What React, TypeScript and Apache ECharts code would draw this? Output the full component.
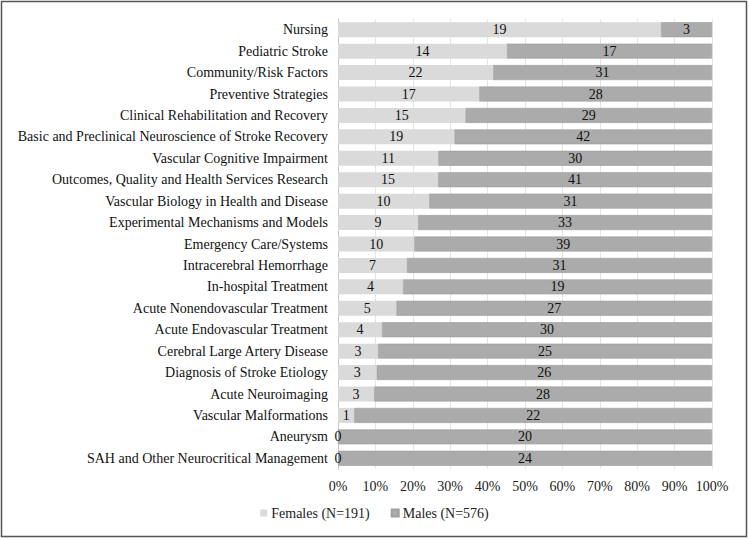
import React, { useEffect, useRef } from "react";
import * as echarts from "echarts";

const categories = [
  "Nursing",
  "Pediatric Stroke",
  "Community/Risk Factors",
  "Preventive Strategies",
  "Clinical Rehabilitation and Recovery",
  "Basic and Preclinical Neuroscience of Stroke Recovery",
  "Vascular Cognitive Impairment",
  "Outcomes, Quality and Health Services Research",
  "Vascular Biology in Health and Disease",
  "Experimental Mechanisms and Models",
  "Emergency Care/Systems",
  "Intracerebral Hemorrhage",
  "In-hospital Treatment",
  "Acute Nonendovascular Treatment",
  "Acute Endovascular Treatment",
  "Cerebral Large Artery Disease",
  "Diagnosis of Stroke Etiology",
  "Acute Neuroimaging",
  "Vascular Malformations",
  "Aneurysm",
  "SAH and Other Neurocritical Management",
];

const females = [19, 14, 22, 17, 15, 19, 11, 15, 10, 9, 10, 7, 4, 5, 4, 3, 3, 3, 1, 0, 0];
const males = [3, 17, 31, 28, 29, 42, 30, 41, 31, 33, 39, 31, 19, 27, 30, 25, 26, 28, 22, 20, 24];

const seriesNames = ["Females (N=191)", "Males (N=576)"];
const xTicks = [0, 10, 20, 30, 40, 50, 60, 70, 80, 90, 100];

const FONT = "Liberation Serif, Times New Roman, DejaVu Serif, serif";
const FS = 14;

export default function App() {
  const ref = useRef<HTMLDivElement>(null);
  useEffect(() => {
    document.body.style.margin = "0";
    if (!ref.current) return;
    const chart = echarts.init(ref.current, undefined, { renderer: "svg" });
    const totals = females.map((f, i) => f + males[i]);
    const mk = (arr: number[]) =>
      arr.map((v, i) => ({ value: (v / totals[i]) * 100, raw: v }));
    const labelCfg = {
      show: true,
      position: "inside",
      color: "#111",
      fontFamily: FONT,
      fontSize: FS,
      formatter: (p: any) => String(p.data.raw),
    };
    chart.setOption({
      animation: false,
      backgroundColor: "#fff",
      textStyle: { fontFamily: FONT },
      grid: { left: 338, right: 37, top: 19, bottom: 70 },
      legend: {
        bottom: 14,
        left: "center",
        itemWidth: 7,
        itemHeight: 7,
        itemGap: 21,
        icon: "rect",
        textStyle: { fontFamily: FONT, fontSize: FS, color: "#222", padding: [0, 0, 0, -1] },
        data: seriesNames,
      },
      xAxis: {
        type: "value",
        min: 0,
        max: 100,
        interval: 10,
        axisLine: { show: false },
        axisTick: { show: false },
        axisLabel: {
          fontFamily: FONT,
          fontSize: FS,
          color: "#222",
          margin: 10,
          formatter: (v: number) => (xTicks.includes(v) ? v + "%" : ""),
        },
        splitLine: { show: true, lineStyle: { color: "#e4e4e4", width: 1 } },
      },
      yAxis: {
        type: "category",
        inverse: true,
        data: categories,
        axisLine: { show: true, lineStyle: { color: "#c8c8c8" } },
        axisTick: { show: false },
        axisLabel: { fontFamily: FONT, fontSize: FS, color: "#111", margin: 10 },
      },
      series: [
        {
          name: seriesNames[0],
          type: "bar",
          stack: "total",
          barWidth: 15,
          data: mk(females),
          itemStyle: { color: "#dadada" },
          label: labelCfg,
        },
        {
          name: seriesNames[1],
          type: "bar",
          stack: "total",
          barWidth: 15,
          data: mk(males),
          itemStyle: { color: "#ababab", borderColor: "#9e9e9e", borderWidth: 0.6 },
          label: labelCfg,
        },
      ],
      graphic: [
        {
          type: "rect",
          shape: { x: 1.5, y: 1.5, width: 745, height: 535 },
          style: { fill: "none", stroke: "#555", lineWidth: 1.5 },
          silent: true,
          z: 100,
        },
      ],
    });
    return () => chart.dispose();
  }, []);
  return <div ref={ref} style={{ width: 749, height: 539 }} />;
}
